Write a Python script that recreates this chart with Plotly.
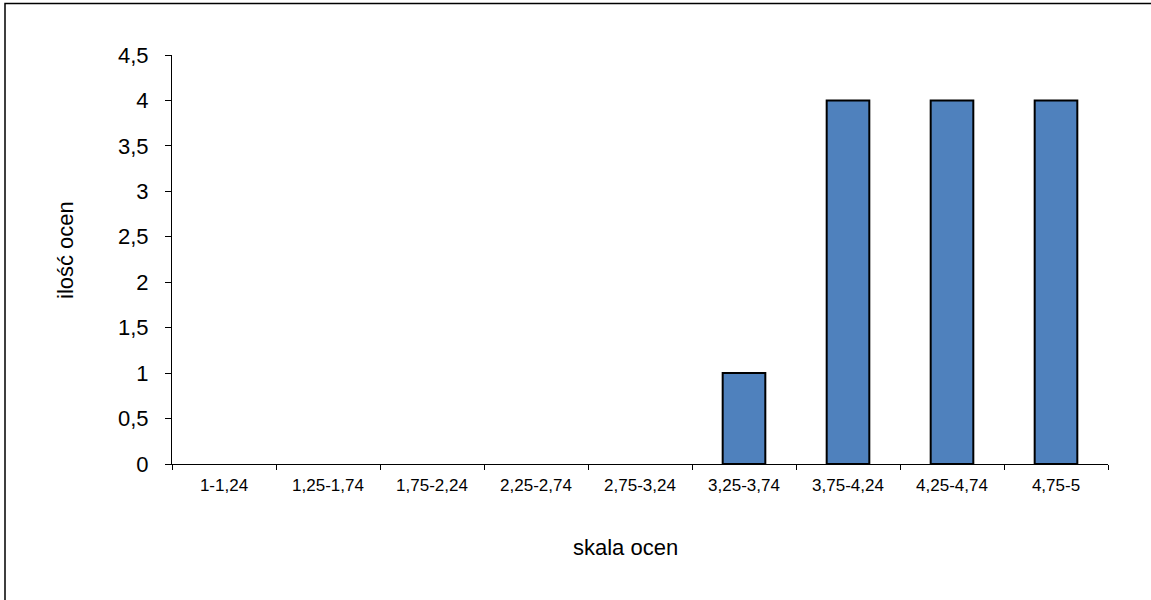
import plotly.graph_objects as go

categories = ["1-1,24", "1,25-1,74", "1,75-2,24", "2,25-2,74", "2,75-3,24",
              "3,25-3,74", "3,75-4,24", "4,25-4,74", "4,75-5"]
counts = [0, 0, 0, 0, 0, 1, 4, 4, 4]
y_title = "ilość ocen"
x_title = "skala ocen"

W, H = 1151, 600
L, R, T, B = 172, 1108, 55, 464
pw, ph = R - L, B - T

def px(x):
    return (x - L) / pw

def py(y):
    return (B - y) / ph

# no outline drawn for empty (zero-height) bars
outline_widths = [0 if v == 0 else 2 for v in counts]

fig = go.Figure()
fig.add_trace(go.Bar(
    x=categories, y=counts,
    marker=dict(color="#4F81BD", line=dict(color="#000000", width=outline_widths)),
    hoverinfo="x+y",
))

font = "Liberation Sans, Arial, sans-serif"
fig.update_layout(
    width=W, height=H,
    margin=dict(l=L, r=W - R, t=T, b=H - B, pad=0),
    paper_bgcolor="white", plot_bgcolor="white",
    separators=", ",
    bargap=0.59,
    showlegend=False,
    font=dict(family=font, color="#000000"),
    xaxis=dict(
        type="category", showgrid=False, zeroline=False,
        showline=True, linecolor="#000000", linewidth=1,
        ticks="outside", tickson="boundaries", ticklen=5, tickcolor="#000000",
        tickfont=dict(size=17, family=font, color="#000000"),
        ticklabelstandoff=6,
    ),
    yaxis=dict(
        range=[0, 4.5], dtick=0.5, tick0=0, showgrid=False, zeroline=False,
        showline=True, linecolor="#000000", linewidth=1,
        ticks="outside", ticklen=6, tickcolor="#000000",
        tickfont=dict(size=22, family=font, color="#000000"),
        ticklabelstandoff=12,
    ),
    shapes=[dict(
        type="rect", xref="paper", yref="paper",
        x0=px(5), x1=px(1165), y0=py(615), y1=py(3.5),
        line=dict(color="#000000", width=1.5), fillcolor="rgba(0,0,0,0)",
    )],
    annotations=[
        dict(text=y_title, xref="paper", yref="paper", x=px(65), y=py(250),
             showarrow=False, textangle=-90, xanchor="center", yanchor="middle",
             font=dict(size=22, family=font, color="#000000")),
        dict(text=x_title, xref="paper", yref="paper", x=px(625), y=py(547),
             showarrow=False, xanchor="center", yanchor="middle",
             font=dict(size=22, family=font, color="#000000")),
    ],
)

fig.write_html(
    "out.html",
    config={"displayModeBar": False},
    post_script="document.body.style.margin='0';document.body.style.overflow='hidden';",
)
